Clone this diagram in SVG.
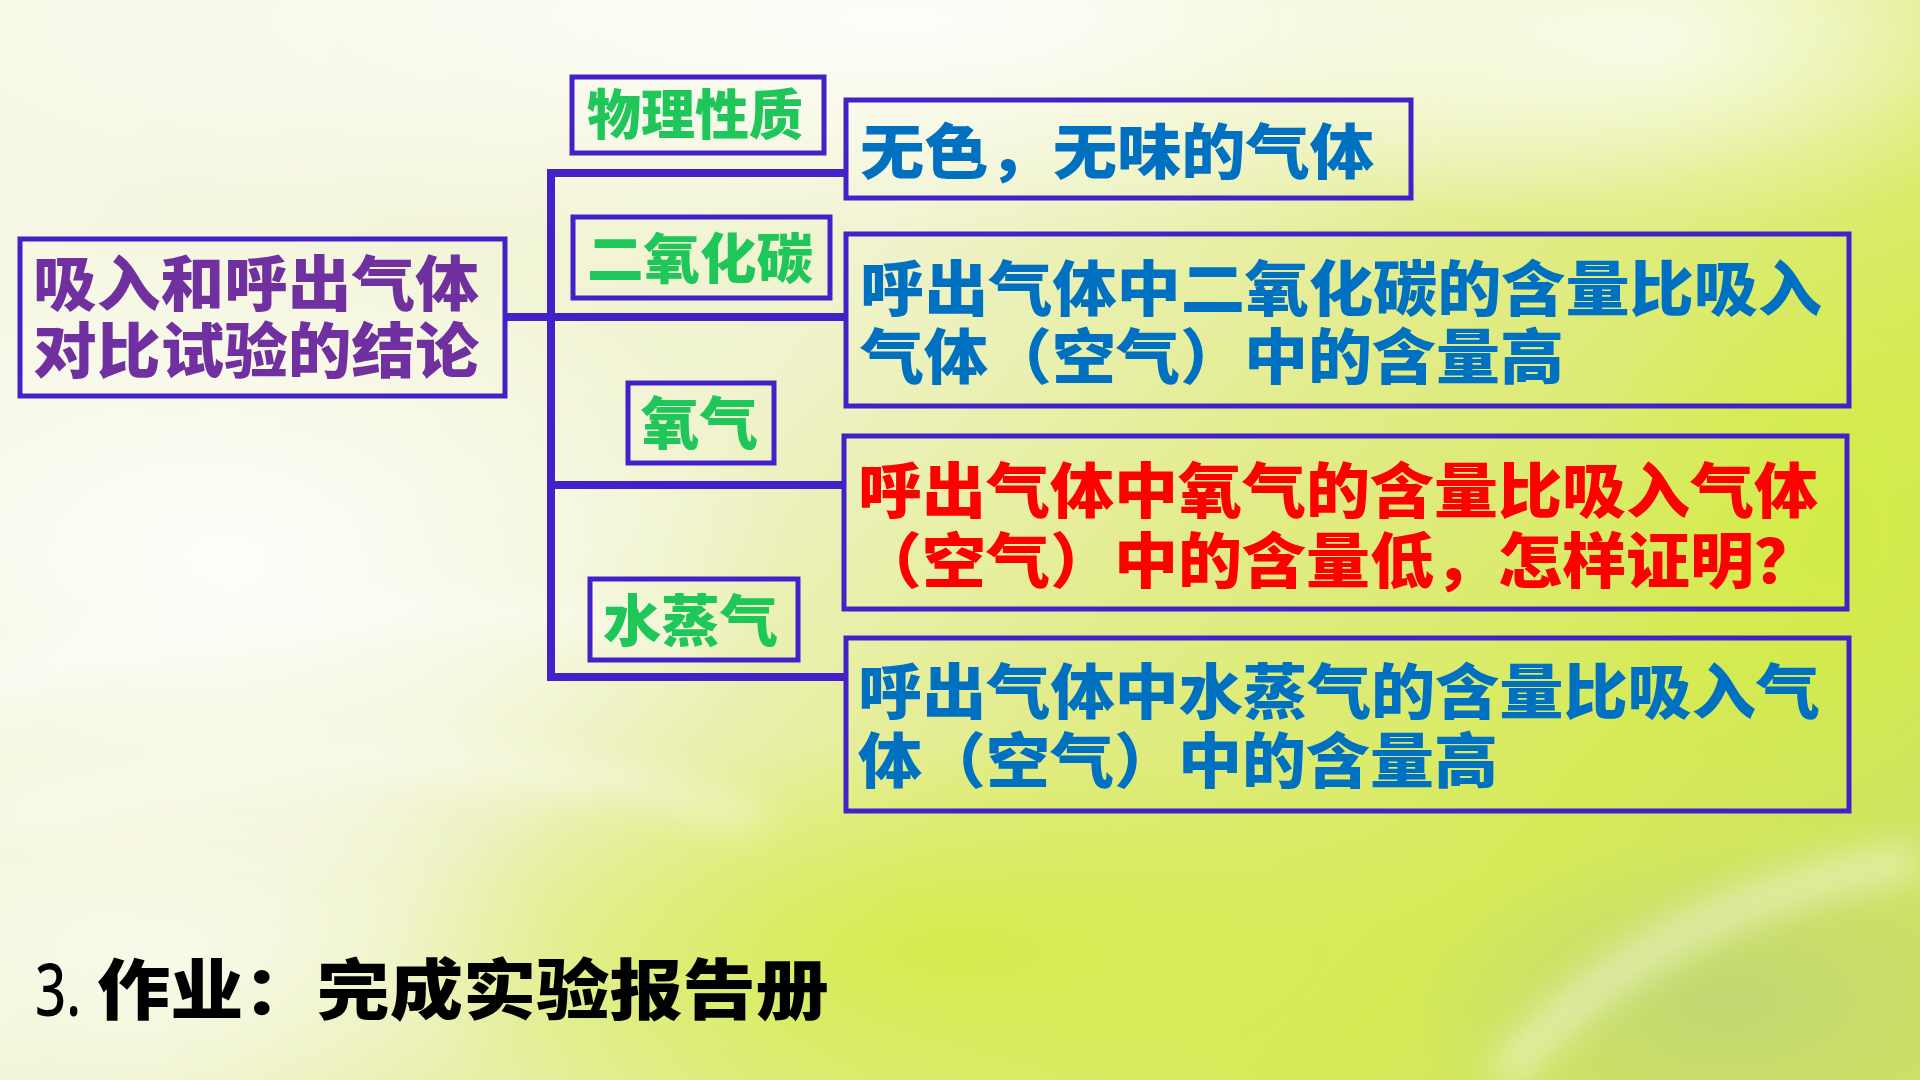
<svg xmlns="http://www.w3.org/2000/svg" width="1920" height="1080" viewBox="0 0 1920 1080">
<defs>
<linearGradient id="bg" x1="0" y1="0.25" x2="1" y2="0.75">
<stop offset="0" stop-color="#F6F7E4"/>
<stop offset="0.35" stop-color="#F0F3CE"/>
<stop offset="0.6" stop-color="#E2EC8A"/>
<stop offset="0.85" stop-color="#D6EA58"/>
<stop offset="1" stop-color="#CFE262"/>
</linearGradient>
<radialGradient id="glowW" cx="0.5" cy="0.5" r="0.5">
<stop offset="0" stop-color="#FFFFFF" stop-opacity="0.9"/>
<stop offset="1" stop-color="#FFFFFF" stop-opacity="0"/>
</radialGradient>
<radialGradient id="glowG" cx="0.5" cy="0.5" r="0.5">
<stop offset="0" stop-color="#D3EC45" stop-opacity="0.85"/>
<stop offset="1" stop-color="#D3EC45" stop-opacity="0"/>
</radialGradient>
<radialGradient id="glowD" cx="0.5" cy="0.5" r="0.5">
<stop offset="0" stop-color="#BCD47A" stop-opacity="0.7"/>
<stop offset="1" stop-color="#BCD47A" stop-opacity="0"/>
</radialGradient>
<filter id="blur" x="-50%" y="-50%" width="200%" height="200%"><feGaussianBlur stdDeviation="18"/></filter>
<style>
.box{fill:none;stroke:#4420C8;stroke-width:5}
.conn{stroke:#4420C8;stroke-width:8;fill:none}
.t{font-family:"Noto Sans CJK SC","Noto Sans",sans-serif;font-weight:900}
.purple{fill:#7030A0}
.green{fill:#1FC65A}
.blue{fill:#0070C0}
.red{fill:#FF0000}
.black{fill:#000000}
</style>
</defs>
<g id="background">
<rect x="0" y="0" width="1920" height="1080" fill="url(#bg)"/>
<ellipse cx="900" cy="20" rx="1100" ry="230" fill="url(#glowW)"/>
<ellipse cx="1650" cy="40" rx="420" ry="200" fill="url(#glowW)" opacity="0.8"/>
<ellipse cx="230" cy="560" rx="560" ry="330" fill="url(#glowW)"/>
<ellipse cx="150" cy="950" rx="420" ry="200" fill="url(#glowW)" opacity="0.6"/>
<ellipse cx="1840" cy="540" rx="260" ry="320" fill="url(#glowG)"/>
<ellipse cx="950" cy="950" rx="560" ry="210" fill="url(#glowG)"/>
<ellipse cx="1720" cy="1000" rx="320" ry="160" fill="url(#glowD)"/>
<g filter="url(#blur)" opacity="0.55">
<path d="M-50 700 Q 300 560 700 640" stroke="#FFFFFF" stroke-width="26" fill="none"/>
<path d="M0 820 Q 400 700 760 820" stroke="#FFFFFF" stroke-width="20" fill="none"/>
<path d="M1500 1080 Q 1650 900 1920 860" stroke="#FFFFFF" stroke-width="30" fill="none"/>
</g>
</g>
<g id="connectors">
<line class="conn" x1="505" y1="317" x2="551" y2="317"/>
<line class="conn" x1="551" y1="169" x2="551" y2="681"/>
<line class="conn" x1="547" y1="173" x2="846" y2="173"/>
<line class="conn" x1="551" y1="317" x2="846" y2="317"/>
<line class="conn" x1="551" y1="485" x2="844" y2="485"/>
<line class="conn" x1="547" y1="677" x2="846" y2="677"/>
</g>
<g id="node-main">
<rect class="box" x="20" y="239" width="485" height="157"/>
<text class="t purple" font-size="60"><tspan x="33" y="306" textLength="446" lengthAdjust="spacingAndGlyphs">吸入和呼出气体</tspan><tspan x="33" y="373" textLength="446" lengthAdjust="spacingAndGlyphs">对比试验的结论</tspan></text>
</g>
<g id="node-physical">
<rect class="box" x="572" y="77" width="252" height="76"/>
<text class="t green" x="587" y="135" font-size="54" textLength="216" lengthAdjust="spacingAndGlyphs">物理性质</text>
</g>
<g id="node-co2">
<rect class="box" x="573" y="217" width="257" height="81"/>
<text class="t green" x="587" y="279" font-size="54" textLength="226" lengthAdjust="spacingAndGlyphs">二氧化碳</text>
</g>
<g id="node-o2">
<rect class="box" x="628" y="383" width="146" height="80"/>
<text class="t green" x="641" y="444" font-size="57" textLength="117" lengthAdjust="spacingAndGlyphs">氧气</text>
</g>
<g id="node-h2o">
<rect class="box" x="590" y="579" width="208" height="81"/>
<text class="t green" x="603" y="641" font-size="56" textLength="175" lengthAdjust="spacingAndGlyphs">水蒸气</text>
</g>
<g id="node-physical-text">
<rect class="box" x="846" y="100" width="565" height="98"/>
<text class="t blue" x="860" y="174" font-size="60" textLength="514" lengthAdjust="spacingAndGlyphs">无色，无味的气体</text>
</g>
<g id="node-co2-text">
<rect class="box" x="846" y="234" width="1003" height="172"/>
<text class="t blue" font-size="60"><tspan x="860" y="311" textLength="962" lengthAdjust="spacingAndGlyphs">呼出气体中二氧化碳的含量比吸入</tspan><tspan x="860" y="379" textLength="704" lengthAdjust="spacingAndGlyphs">气体（空气）中的含量高</tspan></text>
</g>
<g id="node-o2-text">
<rect class="box" x="844" y="436" width="1003" height="173"/>
<text class="t red" font-size="60"><tspan x="858" y="513" textLength="960" lengthAdjust="spacingAndGlyphs">呼出气体中氧气的含量比吸入气体</tspan><tspan x="858" y="583" textLength="960" lengthAdjust="spacingAndGlyphs">（空气）中的含量低，怎样证明？</tspan></text>
</g>
<g id="node-h2o-text">
<rect class="box" x="846" y="638" width="1003" height="173"/>
<text class="t blue" font-size="60"><tspan x="858" y="714" textLength="962" lengthAdjust="spacingAndGlyphs">呼出气体中水蒸气的含量比吸入气</tspan><tspan x="858" y="783" textLength="640" lengthAdjust="spacingAndGlyphs">体（空气）中的含量高</tspan></text>
</g>
<g id="homework">
<text x="35" y="1016" font-family="'Noto Sans','Open Sans',sans-serif" font-weight="500" font-size="72" fill="#000000" textLength="46" lengthAdjust="spacingAndGlyphs">3.</text>
<text class="t black" x="97" y="1014" font-size="66" textLength="732" lengthAdjust="spacingAndGlyphs">作业：完成实验报告册</text>
</g>
</svg>
